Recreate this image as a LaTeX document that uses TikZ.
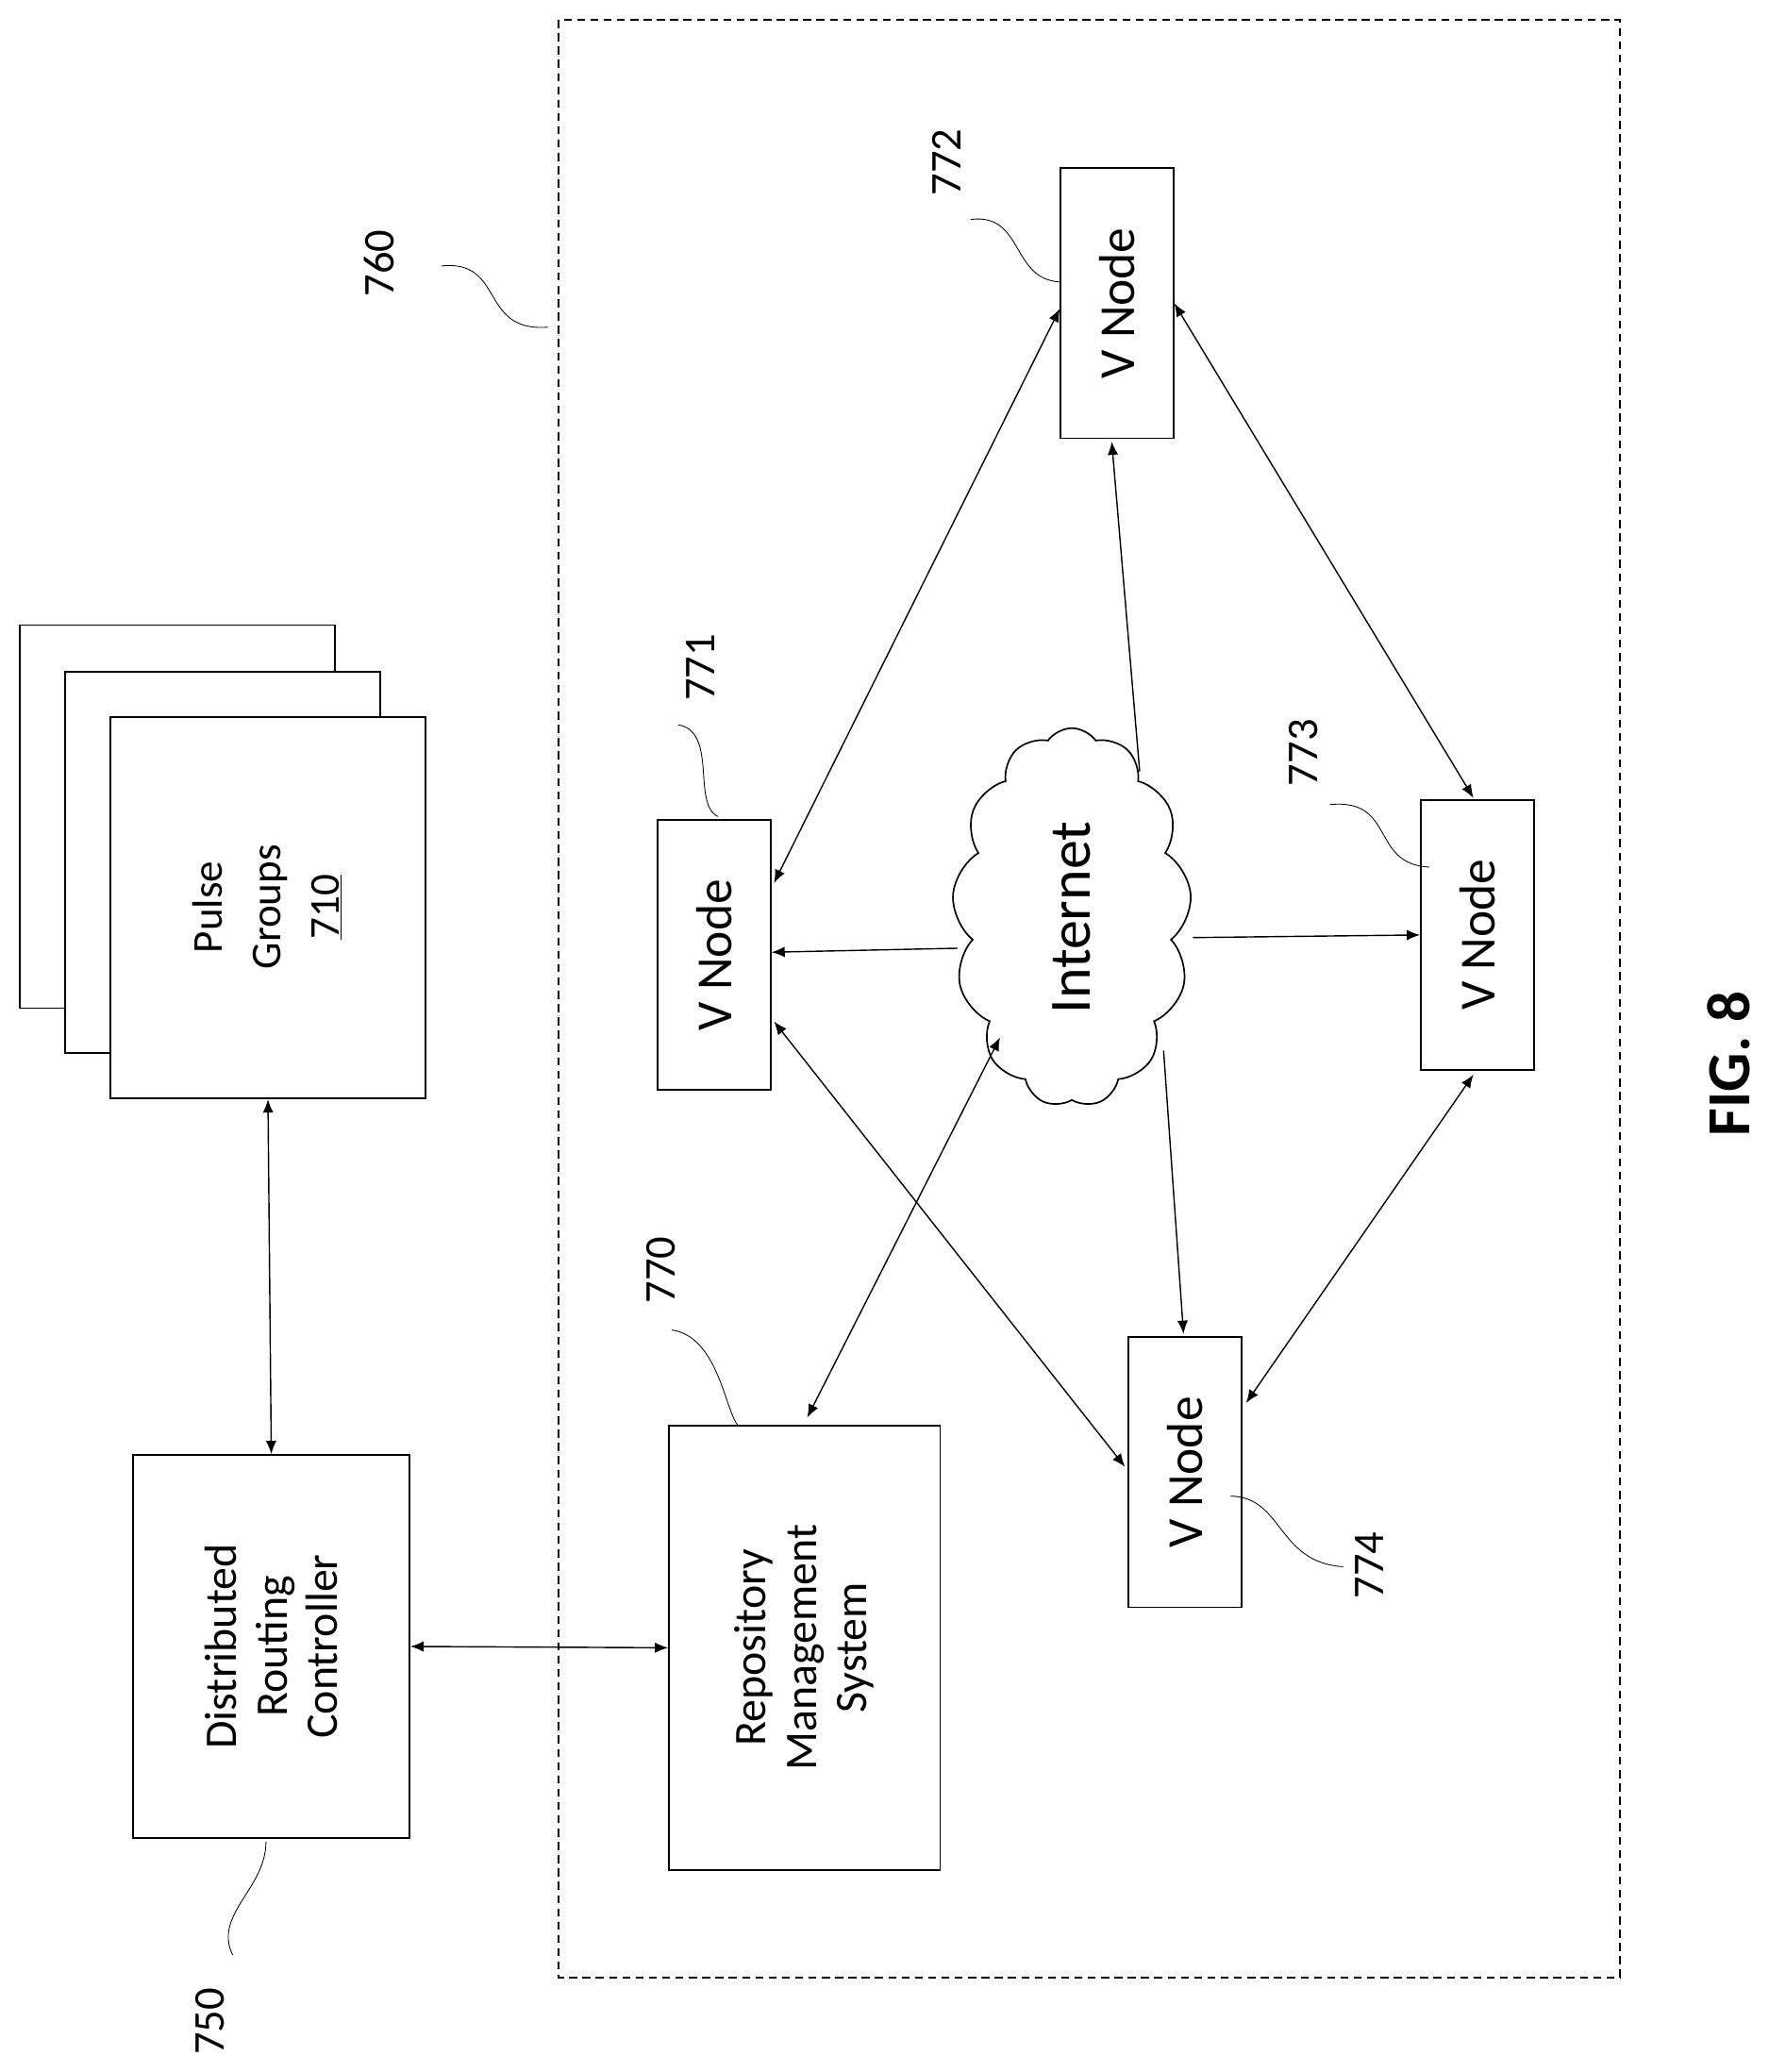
\documentclass[tikz,border=0pt]{standalone}
\usepackage{fontspec}
\setmainfont{Carlito}
\usetikzlibrary{shapes.symbols,arrows.meta}
\begin{document}
\begin{tikzpicture}[x=1pt,y=-1pt,
 box/.style={draw,line width=1.2pt,fill=white},
 lab/.style={rotate=90,font=\fontsize{34}{38}\selectfont,align=center},
 num/.style={rotate=90,font=\fontsize{33}{36}\selectfont},
 conn/.style={line width=1pt,{Latex[length=10pt,width=8pt]}-{Latex[length=10pt,width=8pt]}},
 one/.style={line width=1pt,-{Latex[length=10pt,width=8pt]}},
 sq/.style={line width=0.6pt}]
\useasboundingbox (0,0) rectangle (1330,1558);
\draw[line width=1.2pt,dash pattern=on 6pt off 4pt] (420,15) rectangle (1218,1487);
% pulse groups
\draw[box] (15,470) rectangle (252,758);
\draw[box] (49,505) rectangle (286,792);
\node[box,minimum width=237pt,minimum height=287pt] (pg) at (201.5,682.5) {};
\node[lab,font=\fontsize{32}{44}\selectfont] at (201,682) {Pulse\\Groups\\\underline{710}};
\node[box,minimum width=208pt,minimum height=288pt] (drc) at (204,1238) {};
\node[lab] at (204,1238) {Distributed\\Routing\\Controller};
\node[box,minimum width=204pt,minimum height=334pt] (rms) at (605,1239) {};
\node[lab] at (605,1239) {Repository\\Management\\System};
\foreach \n/\x/\y in {a/537/718, b/840/228, c/1111/703, d/891/1107}{
 \node[box,minimum width=85pt,minimum height=203pt] (\n) at (\x,\y) {};
 \node[lab,font=\fontsize{38}{40}\selectfont] at (\x,\y) {V Node};}
\node[draw,line width=1.2pt,cloud,cloud puffs=13,cloud puff arc=110,aspect=0.62,minimum width=180pt,minimum height=285pt] (net) at (806,690) {};
\node[rotate=90,font=\fontsize{44}{48}\selectfont] at (806,690) {Internet};
% connectors
\draw[conn] (pg.south) -- (drc.north);
\draw[conn] (drc.east) -- (rms.west);
\draw[conn] (607,1066) -- (752,780);
\draw[one] (720,713) -- (a.east|-0,716);
\draw[one] (857,580) -- (836,332);
\draw[one] (897,705) -- (c.west|-0,703);
\draw[one] (875,790) -- (890,1003);
\draw[conn] (582,664) -- (797,232);
\draw[conn] (883,228) -- (1108,600);
\draw[conn] (582,768) -- (846,1103);
\draw[conn] (1108,808) -- (937,1055);
% labels
\node[num] at (285,198) {760};
\draw[sq] (332,200) .. controls (380,195) and (360,250) .. (412,246);
\node[num] at (712,122) {772};
\draw[sq] (730,165) .. controls (770,160) and (760,210) .. (797,212);
\node[num] at (527,502) {771};
\draw[sq] (510,545) .. controls (540,550) and (520,605) .. (540,614);
\node[num] at (980,566) {773};
\draw[sq] (1000,605) .. controls (1050,600) and (1030,650) .. (1075,652);
\node[num] at (497,955) {770};
\draw[sq] (505,1000) .. controls (540,1005) and (545,1060) .. (555,1072);
\node[num] at (1030,1177) {774};
\draw[sq] (925,1125) .. controls (965,1125) and (960,1175) .. (1010,1178);
\node[num] at (158,1520) {750};
\draw[sq] (175,1470) .. controls (160,1440) and (200,1420) .. (200,1385);
\node[rotate=90,font=\fontsize{46}{48}\selectfont\bfseries] at (1300,800) {FIG. 8};
\end{tikzpicture}
\end{document}
